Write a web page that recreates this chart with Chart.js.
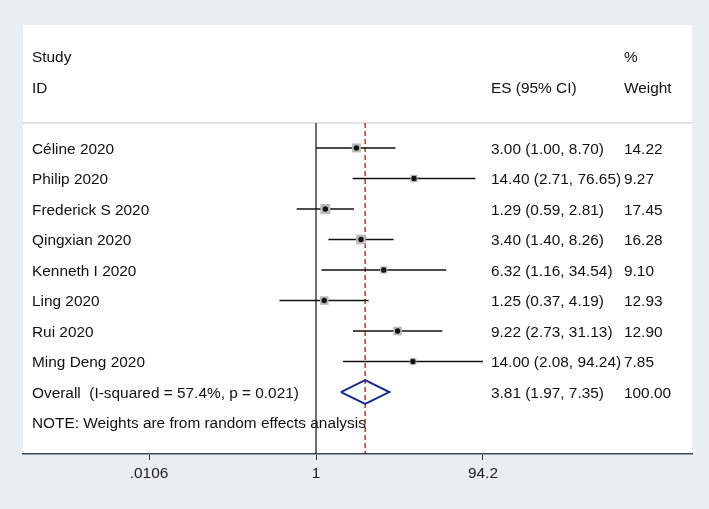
<!DOCTYPE html>
<html>
<head>
<meta charset="utf-8">
<script src="https://cdn.jsdelivr.net/npm/chart.js@4/dist/chart.umd.min.js"></script>
<style>
  body { margin: 0; background: #e9eef0; }
</style>
</head>
<body>
<canvas id="forest" width="709" height="509"></canvas>
<script>
// 研究データ
const studies = ['Céline 2020', 'Philip 2020', 'Frederick S 2020', 'Qingxian 2020',
                 'Kenneth I 2020', 'Ling 2020', 'Rui 2020', 'Ming Deng 2020'];
const es = [3.00, 14.40, 1.29, 3.40, 6.32, 1.25, 9.22, 14.00];
const ciLow = [1.00, 2.71, 0.59, 1.40, 1.16, 0.37, 2.73, 2.08];
const ciHigh = [8.70, 76.65, 2.81, 8.26, 34.54, 4.19, 31.13, 94.24];
const weights = [14.22, 9.27, 17.45, 16.28, 9.10, 12.93, 12.90, 7.85];

// 統合結果
const overallLabel = 'Overall  (I-squared = 57.4%, p = 0.021)';
const overallEs = 3.81;
const overallLow = 1.97;
const overallHigh = 7.35;
const overallWeight = 100.00;
const note = 'NOTE: Weights are from random effects analysis';

// 軸
const tickValues = [0.0106, 1, 94.2];
const tickLabels = ['.0106', '1', '94.2'];
const xMin = 0.000343;
const xMax = 27900;
const yMin = -4.03;
const yMax = 10.03;
const topRule = -0.82;

const FONT = '15.4px "Liberation Sans", Arial, sans-serif';
const overallRow = studies.length;

function fmt(v) { return v.toFixed(2); }

// 背景とテキスト
const panelPlugin = {
    id: 'panel',
    beforeDraw(chart) {
        const { ctx, chartArea: a } = chart;
        ctx.save();
        ctx.fillStyle = '#e9eef0';
        ctx.fillRect(0, 0, chart.width, chart.height);
        ctx.fillStyle = '#ffffff';
        ctx.fillRect(a.left, a.top, a.right - a.left, a.bottom - a.top);
        ctx.restore();
    },
    afterDatasetsDraw(chart) {
        const { ctx, chartArea: a, scales } = chart;
        const ty = v => scales.y.getPixelForValue(v) + 1.5;
        const colLabel = a.left + 9;
        const colEs = a.left + 468;
        const colW = a.left + 601;
        ctx.save();
        ctx.font = FONT;
        ctx.fillStyle = '#111';
        ctx.textBaseline = 'middle';
        ctx.textAlign = 'left';
        ctx.fillText('Study', colLabel, ty(-3));
        ctx.fillText('ID', colLabel, ty(-2));
        ctx.fillText('%', colW, ty(-3));
        ctx.fillText('ES (95% CI)', colEs, ty(-2));
        ctx.fillText('Weight', colW, ty(-2));
        studies.forEach((name, i) => {
            ctx.fillText(name, colLabel, ty(i));
            ctx.fillText(fmt(es[i]) + ' (' + fmt(ciLow[i]) + ', ' + fmt(ciHigh[i]) + ')', colEs, ty(i));
            ctx.fillText(fmt(weights[i]), colW, ty(i));
        });
        ctx.fillText(overallLabel, colLabel, ty(overallRow));
        ctx.fillText(fmt(overallEs) + ' (' + fmt(overallLow) + ', ' + fmt(overallHigh) + ')', colEs, ty(overallRow));
        ctx.fillText(fmt(overallWeight), colW, ty(overallRow));
        ctx.fillText(note, colLabel, ty(overallRow + 1));
        ctx.restore();
    }
};

const datasets = [];

// 上部の区切り線
datasets.push({
    data: [{ x: xMin, y: topRule }, { x: xMax, y: topRule }],
    showLine: true, borderColor: '#d6dadb', borderWidth: 1.5, pointRadius: 0, order: 5
});

// 基準線 (1) と統合推定値の破線
datasets.push({
    data: [{ x: 1, y: topRule }, { x: 1, y: yMax }],
    showLine: true, borderColor: '#111', borderWidth: 1.2, pointRadius: 0, order: 4
});
datasets.push({
    data: [{ x: overallEs, y: topRule }, { x: overallEs, y: yMax }],
    showLine: true, borderColor: '#9e1f1f', borderWidth: 1.3, borderDash: [5, 3],
    pointRadius: 0, order: 3
});

// 信頼区間
studies.forEach((s, i) => {
    datasets.push({
        data: [{ x: ciLow[i], y: i }, { x: ciHigh[i], y: i }],
        showLine: true, borderColor: '#111', borderWidth: 1.5, pointRadius: 0, order: 2
    });
});

// 重みの四角
datasets.push({
    data: es.map((v, i) => ({ x: v, y: i })),
    pointStyle: 'rect',
    pointRadius: weights.map(w => 1.7 * Math.sqrt(w)),
    backgroundColor: '#bababa', borderWidth: 0, order: 1
});

// 点推定値
datasets.push({
    data: es.map((v, i) => ({ x: v, y: i })),
    pointRadius: 2.7, backgroundColor: '#111', borderWidth: 0, order: 0
});

// ダイヤモンド
datasets.push({
    data: [
        { x: overallLow, y: overallRow },
        { x: overallEs, y: overallRow - 0.39 },
        { x: overallHigh, y: overallRow },
        { x: overallEs, y: overallRow + 0.39 },
        { x: overallLow, y: overallRow }
    ],
    showLine: true, borderColor: '#1d2a86', borderWidth: 2, pointRadius: 0,
    tension: 0, order: 0
});

new Chart(document.getElementById('forest'), {
    type: 'scatter',
    data: { datasets },
    options: {
        responsive: false,
        animation: false,
        layout: { padding: { left: 23, top: 25, right: 17, bottom: 0 } },
        plugins: { legend: { display: false }, tooltip: { enabled: false } },
        scales: {
            x: {
                type: 'logarithmic',
                bounds: 'data',
                min: xMin,
                max: xMax,
                position: 'bottom',
                grid: { drawOnChartArea: false, drawTicks: true, tickLength: 6, color: '#333', tickWidth: 1 },
                border: { color: '#3c4a58', width: 1.5 },
                ticks: {
                    autoSkip: false, maxRotation: 0, padding: 5,
                    color: '#222', font: { family: '"Liberation Sans", Arial, sans-serif', size: 15.4 },
                    callback: (v, i) => tickLabels[i]
                },
                afterBuildTicks: scale => { scale.ticks = tickValues.map(v => ({ value: v })); },
                afterFit: scale => { scale.height = 55; scale.paddingLeft = 0; scale.paddingRight = 0; }
            },
            y: {
                type: 'linear', reverse: true, min: yMin, max: yMax, display: false
            }
        }
    },
    plugins: [panelPlugin]
});
</script>
</body>
</html>
